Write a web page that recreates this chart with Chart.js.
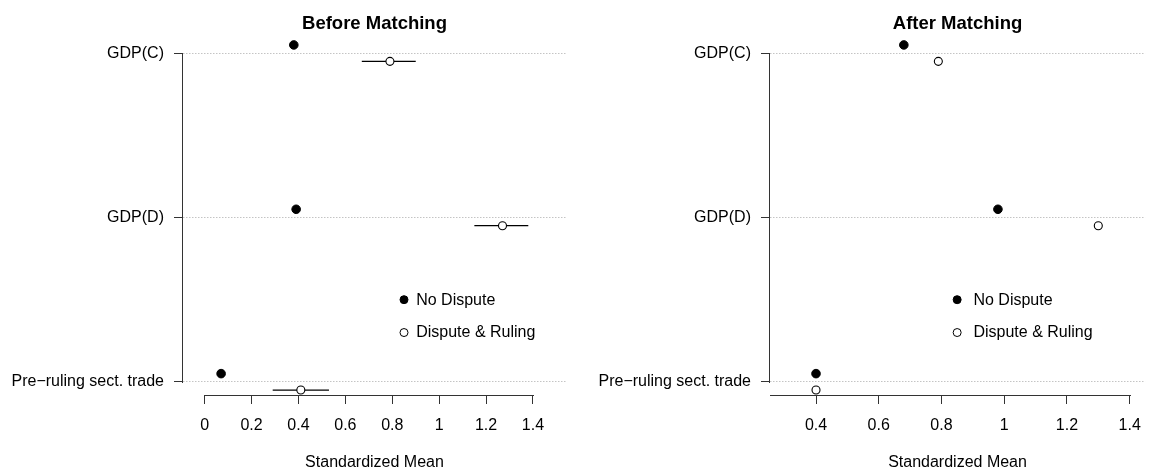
<!DOCTYPE html>
<html>
<head>
<meta charset="utf-8">
<title>Standardized Mean, Before and After Matching</title>
<script src="https://cdn.jsdelivr.net/npm/chart.js@4.4.0/dist/chart.umd.min.js"></script>
<style>
  html, body { margin: 0; padding: 0; background: #fff; }
  .panel { position: absolute; top: 0; }
  #before-panel { left: 0; }
  #after-panel { left: 576px; }
</style>
</head>
<body>
<div class="panel" id="before-panel"><canvas id="beforeChart" width="576" height="472"></canvas></div>
<div class="panel" id="after-panel"><canvas id="afterChart" width="577" height="472"></canvas></div>
<script>
const categories = ['GDP(C)', 'GDP(D)', 'Pre\u2212ruling sect. trade'];
const seriesNames = ['No Dispute', 'Dispute & Ruling'];
const xTicks = [0, 0.2, 0.4, 0.6, 0.8, 1, 1.2, 1.4];

// before matching (open dots carry an interval)
const beforeNoDispute = [0.38, 0.39, 0.07];
const beforeDispute = [0.79, 1.27, 0.41];
const beforeDisputeLow = [0.67, 1.15, 0.29];
const beforeDisputeHigh = [0.90, 1.38, 0.53];

// after matching
const afterNoDispute = [0.68, 0.98, 0.40];
const afterDispute = [0.79, 1.30, 0.40];

const FONT = "'Liberation Sans', Arial, Helvetica, sans-serif";
const INK = '#000000';
const AXIS = '#333333';
const DODGE = 0.05;        // nudge off the category line, in category units
const LEGEND_X = 0.85;
const LEGEND_Y = [1.5, 1.7];
const LEGEND_GAP = 0.052;

function makePanel(canvasId, opts) {
  const decor = {
    id: 'decor',
    beforeDatasetsDraw(chart) {
      if (!opts.low) return;
      const { ctx, scales: { x, y } } = chart;
      ctx.save();
      ctx.strokeStyle = INK;
      ctx.lineWidth = 1.2;
      opts.low.forEach((lo, i) => {
        const py = y.getPixelForValue(i + DODGE);
        ctx.beginPath();
        ctx.moveTo(x.getPixelForValue(lo), py);
        ctx.lineTo(x.getPixelForValue(opts.high[i]), py);
        ctx.stroke();
      });
      ctx.restore();
    },
    afterDraw(chart) {
      const { ctx, chartArea: area, scales: { x, y } } = chart;
      ctx.save();
      // axis lines span the tick range only, like base R graphics
      ctx.strokeStyle = AXIS;
      ctx.lineWidth = 1;
      const ax = Math.round(area.left) - 0.5;
      ctx.beginPath();
      ctx.moveTo(ax, Math.round(y.getPixelForValue(0)));
      ctx.lineTo(ax, Math.round(y.getPixelForValue(categories.length - 1)) + 1);
      ctx.stroke();
      const ay = Math.round(area.bottom) + 0.5;
      const x0 = Math.max(xTicks[0], x.min), x1 = Math.min(xTicks[xTicks.length - 1], x.max);
      ctx.beginPath();
      ctx.moveTo(Math.round(x.getPixelForValue(x0)), ay);
      ctx.lineTo(Math.round(x.getPixelForValue(x1)) + 1, ay);
      ctx.stroke();

      // title
      ctx.fillStyle = INK;
      ctx.font = `bold 18.5px ${FONT}`;
      ctx.textAlign = 'center';
      ctx.textBaseline = 'alphabetic';
      ctx.fillText(opts.title, (area.left + area.right) / 2, 28.5);

      // legend
      ctx.font = `16px ${FONT}`;
      ctx.textAlign = 'left';
      ctx.textBaseline = 'middle';
      chart.data.datasets.forEach((ds, k) => {
        const px = x.getPixelForValue(LEGEND_X);
        const py = y.getPixelForValue(LEGEND_Y[k]);
        ctx.beginPath();
        ctx.arc(px, py, 4, 0, Math.PI * 2);
        ctx.fillStyle = ds.pointBackgroundColor;
        ctx.fill();
        ctx.lineWidth = 1;
        ctx.strokeStyle = ds.pointBorderColor;
        ctx.stroke();
        ctx.fillStyle = INK;
        ctx.fillText(ds.label, x.getPixelForValue(LEGEND_X + LEGEND_GAP), py + 0.5);
      });
      ctx.restore();
    }
  };

  return new Chart(document.getElementById(canvasId).getContext('2d'), {
    type: 'scatter',
    data: {
      datasets: [
        {
          label: seriesNames[0],
          data: opts.noDispute.map((v, i) => ({ x: v, y: i - DODGE })),
          pointRadius: 4.3,
          pointBackgroundColor: INK,
          pointBorderColor: INK,
          pointBorderWidth: 1
        },
        {
          label: seriesNames[1],
          data: opts.dispute.map((v, i) => ({ x: v, y: i + DODGE })),
          pointRadius: 4,
          pointBackgroundColor: '#ffffff',
          pointBorderColor: INK,
          pointBorderWidth: 1.1
        }
      ]
    },
    options: {
      responsive: false,
      devicePixelRatio: 1,
      animation: false,
      events: [],
      layout: { padding: { left: 0, right: opts.rightPad, top: 40, bottom: 0 } },
      plugins: { legend: { display: false }, tooltip: { enabled: false } },
      scales: {
        x: {
          type: 'linear',
          min: opts.xMin,
          max: opts.xMax,
          afterBuildTicks: s => { s.ticks = xTicks.filter(v => v >= s.min && v <= s.max).map(v => ({ value: v })); },
          afterFit: s => { s.height = 77; },
          ticks: { callback: v => String(v), color: INK, font: { family: FONT, size: 16 }, padding: 12, maxRotation: 0, autoSkip: false },
          grid: { drawOnChartArea: false, drawTicks: true, tickLength: 9, tickColor: AXIS, tickWidth: 1, color: AXIS },
          border: { display: false },
          title: { display: true, text: 'Standardized Mean', color: INK, font: { family: FONT, size: 16 }, padding: { top: 0, bottom: 0 } }
        },
        y: {
          type: 'linear',
          reverse: true,
          min: -0.08,
          max: 2.08,
          afterBuildTicks: s => { s.ticks = categories.map((c, i) => ({ value: i })); },
          afterFit: s => { s.width = opts.left; },
          ticks: { callback: v => categories[v], color: INK, font: { family: FONT, size: 16 }, padding: 10, autoSkip: false },
          grid: { color: '#c4c4c4', lineWidth: 1, drawTicks: true, tickLength: 9, tickColor: AXIS, tickWidth: 1, tickBorderDash: [] },
          border: { display: false, dash: [1.5, 1.5] }
        }
      }
    },
    plugins: [decor]
  });
}

document.addEventListener('DOMContentLoaded', function() {
  makePanel('beforeChart', {
    title: 'Before Matching',
    noDispute: beforeNoDispute,
    dispute: beforeDispute,
    low: beforeDisputeLow,
    high: beforeDisputeHigh,
    xMin: -0.0925,
    xMax: 1.5408,
    left: 183,
    rightPad: 10
  });
  makePanel('afterChart', {
    title: 'After Matching',
    noDispute: afterNoDispute,
    dispute: afterDispute,
    xMin: 0.2533,
    xMax: 1.4491,
    left: 194,
    rightPad: 0
  });
});
</script>
</body>
</html>
